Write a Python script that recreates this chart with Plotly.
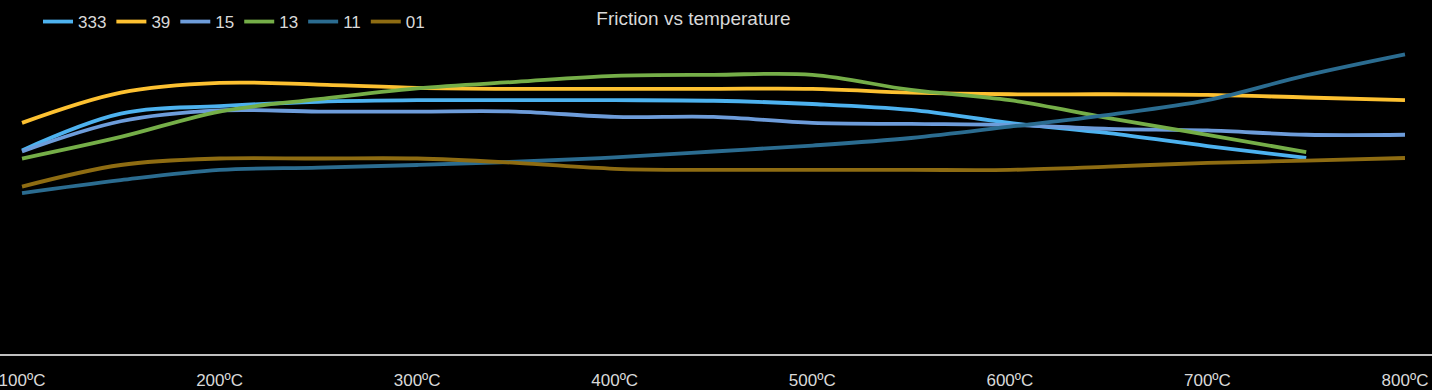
import plotly.graph_objects as go

temps = [100, 150, 200, 250, 300, 350, 400, 450, 500, 550, 600, 650, 700, 750, 800]
tick_vals = [100, 200, 300, 400, 500, 600, 700, 800]
tick_labels = ["100ºC", "200ºC", "300ºC", "400ºC", "500ºC", "600ºC", "700ºC", "800ºC"]

s333 = [0.377, 0.445, 0.459, 0.467, 0.470, 0.470, 0.470, 0.469, 0.463, 0.452, 0.428, 0.409, 0.385, 0.363]
s39 = [0.428, 0.484, 0.502, 0.499, 0.493, 0.491, 0.491, 0.491, 0.491, 0.484, 0.481, 0.481, 0.480, 0.475, 0.470]
s15 = [0.375, 0.431, 0.451, 0.449, 0.449, 0.449, 0.439, 0.439, 0.428, 0.426, 0.424, 0.417, 0.414, 0.406, 0.406]
s13 = [0.362, 0.402, 0.449, 0.472, 0.492, 0.504, 0.515, 0.517, 0.517, 0.489, 0.470, 0.437, 0.406, 0.374]
s11 = [0.298, 0.322, 0.341, 0.345, 0.350, 0.356, 0.364, 0.375, 0.386, 0.400, 0.421, 0.443, 0.470, 0.516, 0.555]
s01 = [0.310, 0.350, 0.362, 0.362, 0.362, 0.354, 0.343, 0.341, 0.341, 0.341, 0.341, 0.347, 0.354, 0.358, 0.363]

series = [
    ("333", s333, "#4DB2EF"),
    ("39", s39, "#FDC131"),
    ("15", s15, "#6D9CDA"),
    ("13", s13, "#75AE48"),
    ("11", s11, "#2B6C90"),
    ("01", s01, "#8E6C12"),
]

fig = go.Figure()
for name, vals, color in series:
    fig.add_trace(go.Scatter(
        x=temps[:len(vals)], y=vals, name=name, mode="lines",
        line=dict(color=color, width=3.8, shape="spline", smoothing=1.0),
    ))

fig.update_layout(
    width=1432, height=390,
    paper_bgcolor="#000000", plot_bgcolor="#000000",
    margin=dict(l=0, r=0, t=30, b=36, autoexpand=False),
    font=dict(family="Liberation Sans", size=17, color="#D9D9D9"),
    title=dict(text="Friction vs temperature", x=693.5 / 1432, xanchor="center",
               y=1 - 18 / 390, yanchor="middle",
               font=dict(family="Liberation Sans", size=19, color="#D9D9D9")),
    legend=dict(orientation="h", x=38 / 1432, xanchor="left", xref="container",
                y=1 - 22 / 390, yanchor="middle", yref="container",
                bgcolor="rgba(0,0,0,0)", font=dict(size=17, color="#D9D9D9"),
                itemwidth=30),
    showlegend=True,
)
fig.update_xaxes(
    range=[88.86, 813.67], tickvals=tick_vals, ticktext=tick_labels,
    showgrid=False, zeroline=False, showline=True, linecolor="#BFBFBF", linewidth=1.5,
    ticks="", ticklabelstandoff=10, ticklabeloverflow="allow",
    tickfont=dict(size=17, color="#D9D9D9"), automargin=False,
)
fig.update_yaxes(range=[0, 0.6], showgrid=False, zeroline=False, showticklabels=False,
                 showline=False, automargin=False)

fig.write_html("out.html")
